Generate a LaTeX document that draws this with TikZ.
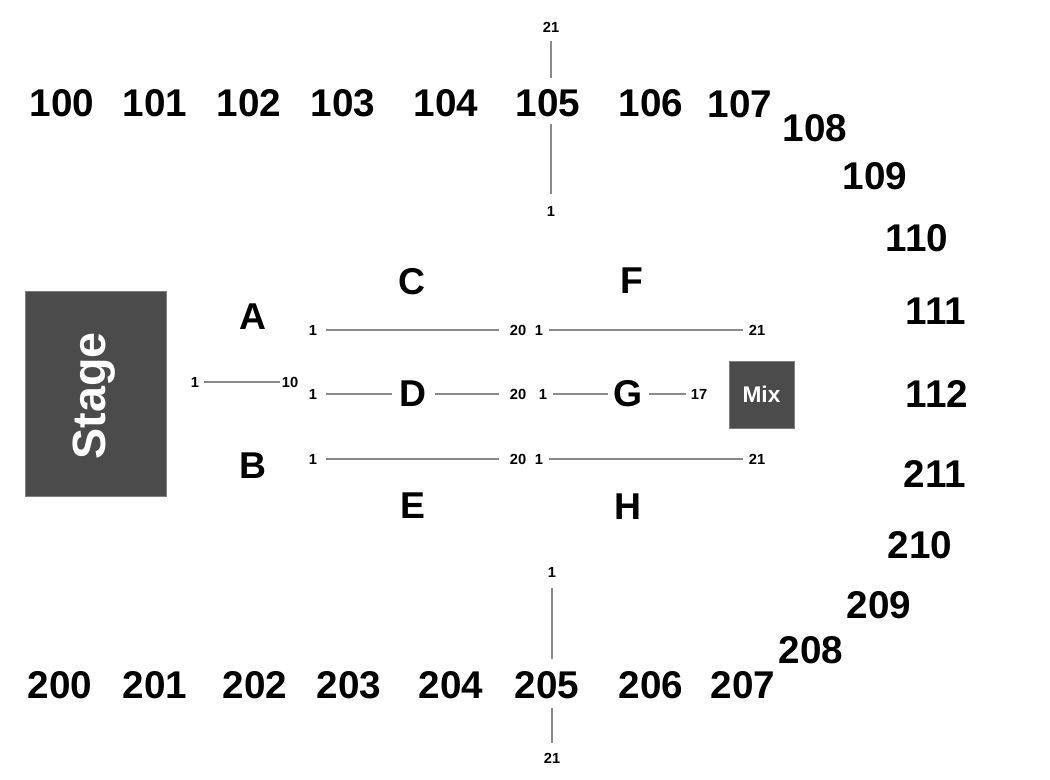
\documentclass[tikz,border=0pt]{standalone}
\usepackage{fontspec}
\setmainfont{Liberation Sans}
\definecolor{boxgray}{HTML}{4B4B4B}
\definecolor{linegray}{HTML}{8A8A8A}
\begin{document}
\begin{tikzpicture}[x=0.75pt,y=-0.75pt,
  sect/.style={font=\bfseries\fontsize{29}{29}\selectfont,inner sep=0pt},
  letter/.style={font=\bfseries\fontsize{28}{28}\selectfont,inner sep=0pt},
  seat/.style={font=\bfseries\fontsize{11}{11}\selectfont,inner sep=0pt},
  row/.style={draw=linegray,line width=0.8pt},
  darkbox/.style={fill=boxgray,draw=gray,line width=0.5pt,inner sep=0pt,text=white}]
\useasboundingbox (0,0) rectangle (1050,780);
% stage and mix
\node[darkbox,minimum width=105.75pt,minimum height=153.75pt] (stage) at (95.5,393.5) {};
\node[rotate=90,text=white,font=\bfseries\fontsize{35}{35}\selectfont,inner sep=0pt] (stagetxt) at (94,396) {Stage};
\node[darkbox,minimum width=48.75pt,minimum height=50.25pt,font=\bfseries\fontsize{17}{17}\selectfont] (mix) at (761.5,394.5) {Mix};
% top sections
\node[sect] (s100) at (62,103) {100};
\node[sect] (s101) at (155,103) {101};
\node[sect] (s102) at (249,103) {102};
\node[sect] (s103) at (343,103) {103};
\node[sect] (s104) at (446,103) {104};
\node[sect] (s105) at (548,103) {105};
\node[sect] (s106) at (651,103) {106};
\node[sect] (s107) at (740,104) {107};
\node[sect] (s108) at (815,128) {108};
\node[sect] (s109) at (875,176) {109};
\node[sect] (s110) at (917,238) {110};
\node[sect] (s111) at (936,311) {111};
\node[sect] (s112) at (937,394) {112};
\node[sect] (s211) at (935,474) {211};
\node[sect] (s210) at (920,545) {210};
\node[sect] (s209) at (879,605) {209};
\node[sect] (s208) at (811,650) {208};
\node[sect] (s207) at (743,685) {207};
\node[sect] (s206) at (651,685) {206};
\node[sect] (s205) at (547,685) {205};
\node[sect] (s204) at (451,685) {204};
\node[sect] (s203) at (349,685) {203};
\node[sect] (s202) at (255,685) {202};
\node[sect] (s201) at (155,685) {201};
\node[sect] (s200) at (60,685) {200};
% section letters
\node[letter] (A) at (253,317) {A};
\node[letter] (B) at (253,466) {B};
\node[letter] (C) at (412,282) {C};
\node[letter] (D) at (413,394) {D};
\node[letter] (E) at (413,506) {E};
\node[letter] (F) at (632,281) {F};
\node[letter] (G) at (628,394) {G};
\node[letter] (H) at (628,507) {H};
% seat numbers around 105 / 205
\node[seat] (t21) at (551,27) {21};
\node[seat] (t1) at (551,211) {1};
\node[seat] (b1) at (552,572) {1};
\node[seat] (b21) at (552,758) {21};
\draw[row,shorten <=6.5pt,shorten >=8.5pt] (t21.south) -- (t21.south |- s105.north);
\draw[row,shorten <=5pt,shorten >=9pt] (t1.north |- s105.south) -- (t1.north);
\draw[row,shorten <=8pt,shorten >=9pt] (b1.south) -- (b1.south |- s205.north);
\draw[row,shorten <=7pt,shorten >=7pt] (b21.north |- s205.south) -- (b21.north);
% A/B row
\node[seat] (ab1) at (195,382) {1};
\node[seat] (ab10) at (290,382) {10};
\draw[row,shorten <=3.5pt,shorten >=1.5pt] (ab1) -- (ab10);
% C row
\node[seat] (c1) at (313,330) {1};
\node[seat] (c20) at (518,330) {20};
\draw[row,shorten <=6.75pt,shorten >=8.25pt] (c1) -- (c20);
% D row
\node[seat] (d1) at (313,394) {1};
\node[seat] (d20) at (518,394) {20};
\draw[row,shorten <=6.75pt,shorten >=5.5pt] (d1) -- (D);
\draw[row,shorten <=6.5pt,shorten >=8.25pt] (D) -- (d20);
% E row
\node[seat] (e1) at (313,459) {1};
\node[seat] (e20) at (518,459) {20};
\draw[row,shorten <=6.75pt,shorten >=8.25pt] (e1) -- (e20);
% F row
\node[seat] (f1) at (539,330) {1};
\node[seat] (f21) at (757,330) {21};
\draw[row,shorten <=4.5pt,shorten >=4.5pt] (f1) -- (f21);
% G row
\node[seat] (g1) at (543,394) {1};
\node[seat] (g17) at (699,394) {17};
\draw[row,shorten <=4.5pt,shorten >=4pt] (g1) -- (G);
\draw[row,shorten <=5pt,shorten >=3.75pt] (G) -- (g17);
% H row
\node[seat] (h1) at (539,459) {1};
\node[seat] (h21) at (757,459) {21};
\draw[row,shorten <=4.5pt,shorten >=4.5pt] (h1) -- (h21);
\end{tikzpicture}
\end{document}
